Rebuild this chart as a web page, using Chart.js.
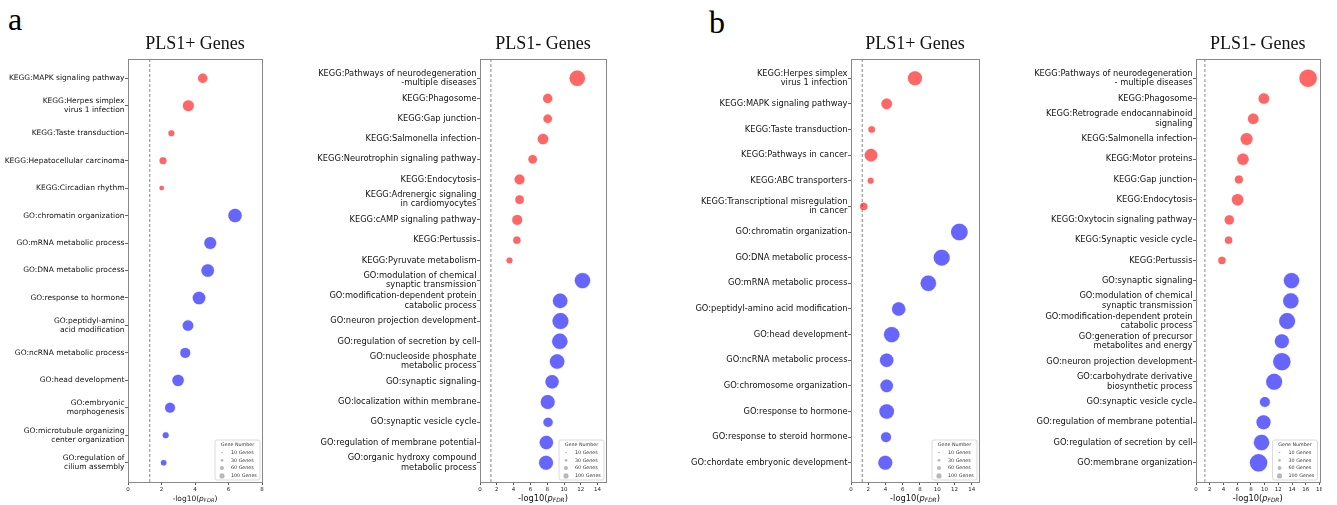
<!DOCTYPE html>
<html>
<head>
<meta charset="utf-8">
<script src="https://cdn.jsdelivr.net/npm/chart.js@4.4.1/dist/chart.umd.min.js"></script>
<style>
  html, body { margin: 0; padding: 0; background: #fff; }
  body { width: 1337px; height: 505px; position: relative; overflow: hidden; }
  .panel { position: absolute; top: 0; height: 505px; overflow: hidden; }
  .panel canvas { display: block; }
  .letter { position: absolute; font: 32px/32px 'Liberation Serif', serif; color: #000; }
</style>
</head>
<body>
<div class="letter" style="left:8px;top:3px">a</div>
<div class="letter" style="left:709px;top:6px">b</div>
<div class="panel" style="left:0px;width:272px"><canvas id="aPlus" width="272" height="505"></canvas></div>
<div class="panel" style="left:290px;width:326px"><canvas id="aMinus" width="326" height="505"></canvas></div>
<div class="panel" style="left:660px;width:329px"><canvas id="bPlus" width="329" height="505"></canvas></div>
<div class="panel" style="left:1000px;width:322px"><canvas id="bMinus" width="337" height="505"></canvas></div>

<script>
// Data
const threshold = 1.3 // -log10(0.05)
const legendGenes = [10, 30, 60, 100]

const aPlusTerms = [
  'KEGG:MAPK signaling pathway',
  'KEGG:Herpes simplex\nvirus 1 infection',
  'KEGG:Taste transduction',
  'KEGG:Hepatocellular carcinoma',
  'KEGG:Circadian rhythm',
  'GO:chromatin organization',
  'GO:mRNA metabolic process',
  'GO:DNA metabolic process',
  'GO:response to hormone',
  'GO:peptidyl-amino\nacid modification',
  'GO:ncRNA metabolic process',
  'GO:head development',
  'GO:embryonic\nmorphogenesis',
  'GO:microtubule organizing\ncenter organization',
  'GO:regulation of\ncilium assembly',
]
const aPlusLogP = [4.46, 3.6, 2.59, 2.09, 2.01, 6.39, 4.91, 4.76, 4.24, 3.58, 3.42, 2.99, 2.51, 2.25, 2.13]
const aPlusGenes = [34, 47, 14, 19, 8, 70, 56, 62, 62, 44, 39, 51, 39, 14, 12]
const aPlusTicks = [0, 2, 4, 6, 8]

const aMinusTerms = [
  'KEGG:Pathways of neurodegeneration\n-multiple diseases',
  'KEGG:Phagosome',
  'KEGG:Gap junction',
  'KEGG:Salmonella infection',
  'KEGG:Neurotrophin signaling pathway',
  'KEGG:Endocytosis',
  'KEGG:Adrenergic signaling\nin cardiomyocytes',
  'KEGG:cAMP signaling pathway',
  'KEGG:Pertussis',
  'KEGG:Pyruvate metabolism',
  'GO:modulation of chemical\nsynaptic transmission',
  'GO:modification-dependent protein\ncatabolic process',
  'GO:neuron projection development',
  'GO:regulation of secretion by cell',
  'GO:nucleoside phosphate\nmetabolic process',
  'GO:synaptic signaling',
  'GO:localization within membrane',
  'GO:synaptic vesicle cycle',
  'GO:regulation of membrane potential',
  'GO:organic hydroxy compound\nmetabolic process',
]
const aMinusLogP = [11.58, 8.06, 8.06, 7.5, 6.27, 4.71, 4.71, 4.43, 4.39, 3.51, 12.2, 9.54, 9.58, 9.5, 9.18, 8.58, 8.06, 8.1, 7.9, 7.86]
const aMinusGenes = [93, 34, 29, 44, 29, 39, 29, 39, 21, 14, 93, 83, 100, 93, 83, 70, 77, 34, 70, 77]
const aMinusTicks = [0, 2, 4, 6, 8, 10, 12, 14]

const bPlusTerms = [
  'KEGG:Herpes simplex\nvirus 1 infection',
  'KEGG:MAPK signaling pathway',
  'KEGG:Taste transduction',
  'KEGG:Pathways in cancer',
  'KEGG:ABC transporters',
  'KEGG:Transcriptional misregulation\nin cancer',
  'GO:chromatin organization',
  'GO:DNA metabolic process',
  'GO:mRNA metabolic process',
  'GO:peptidyl-amino acid modification',
  'GO:head development',
  'GO:ncRNA metabolic process',
  'GO:chromosome organization',
  'GO:response to hormone',
  'GO:response to steroid hormone',
  'GO:chordate embryonic development',
]
const bPlusLogP = [7.42, 4.14, 2.4, 2.32, 2.28, 1.47, 12.57, 10.52, 8.97, 5.53, 4.72, 4.14, 4.14, 4.14, 4.06, 3.98]
const bPlusGenes = [77, 44, 17, 62, 14, 21, 108, 100, 93, 70, 93, 70, 62, 83, 39, 77]
const bPlusTicks = [0, 2, 4, 6, 8, 10, 12, 14]

const bMinusTerms = [
  'KEGG:Pathways of neurodegeneration\n- multiple diseases',
  'KEGG:Phagosome',
  'KEGG:Retrograde endocannabinoid\nsignaling',
  'KEGG:Salmonella infection',
  'KEGG:Motor proteins',
  'KEGG:Gap junction',
  'KEGG:Endocytosis',
  'KEGG:Oxytocin signaling pathway',
  'KEGG:Synaptic vesicle cycle',
  'KEGG:Pertussis',
  'GO:synaptic signaling',
  'GO:modulation of chemical\nsynaptic transmission',
  'GO:modification-dependent protein\ncatabolic process',
  'GO:generation of precursor\nmetabolites and energy',
  'GO:neuron projection development',
  'GO:carbohydrate derivative\nbiosynthetic process',
  'GO:synaptic vesicle cycle',
  'GO:regulation of membrane potential',
  'GO:regulation of secretion by cell',
  'GO:membrane organization',
]
const bMinusLogP = [16.34, 9.89, 8.34, 7.37, 6.84, 6.25, 6.06, 4.85, 4.75, 3.78, 13.92, 13.82, 13.28, 12.51, 12.51, 11.39, 10.04, 9.84, 9.55, 9.12]
const bMinusGenes = [118, 44, 44, 56, 51, 25, 51, 34, 21, 21, 93, 93, 100, 77, 118, 100, 39, 77, 93, 118]
const bMinusTicks = [0, 2, 4, 6, 8, 10, 12, 14, 16, 18]

// Styles
const bubbleScale = 0.8
const legendScale = 0.26
const keggColor = 'rgba(255, 0, 0, 0.6)'
const goColor = 'rgba(0, 0, 255, 0.6)'
const sans = '"DejaVu Sans", sans-serif'

const radius = (genes) => bubbleScale * Math.sqrt(genes)

function drawAxisLabel(ctx, cx, y, size) {
  const parts = [
    { text: '-log10(', font: size + 'px ' + sans, dy: 0 },
    { text: 'p', font: 'italic ' + size + 'px ' + sans, dy: 0 },
    { text: 'FDR', font: 'italic ' + size * 0.7 + 'px ' + sans, dy: size * 0.22 },
    { text: ')', font: size + 'px ' + sans, dy: 0 },
  ]
  let total = 0
  parts.forEach((p) => {
    ctx.font = p.font
    p.w = ctx.measureText(p.text).width
    total += p.w
  })
  let x = cx - total / 2
  ctx.textAlign = 'left'
  ctx.textBaseline = 'alphabetic'
  ctx.fillStyle = '#111'
  parts.forEach((p) => {
    ctx.font = p.font
    ctx.fillText(p.text, x, y + p.dy)
    x += p.w
  })
}

function drawSizeLegend(ctx, right, bottom) {
  const w = 45
  const h = 40
  const x = right - w
  const y = bottom - h
  ctx.fillStyle = 'rgba(255, 255, 255, 0.85)'
  ctx.strokeStyle = '#d0d0d0'
  ctx.lineWidth = 0.8
  ctx.beginPath()
  ctx.roundRect(x, y, w, h, 2)
  ctx.fill()
  ctx.stroke()

  ctx.font = '4.8px ' + sans
  ctx.fillStyle = '#333'
  ctx.textAlign = 'center'
  ctx.textBaseline = 'middle'
  ctx.fillText('Gene Number', x + w / 2, y + 4.6)

  legendGenes.forEach((n, i) => {
    const cy = y + 12.5 + i * 7.8
    ctx.fillStyle = 'rgba(128, 128, 128, 0.55)'
    ctx.beginPath()
    ctx.arc(x + 7, cy, legendScale * Math.sqrt(n), 0, Math.PI * 2)
    ctx.fill()
    ctx.fillStyle = '#333'
    ctx.textAlign = 'left'
    ctx.fillText(n + ' Genes', x + 16, cy)
  })
}

const decor = {
  id: 'decor',
  beforeDatasetsDraw(chart) {
    const { ctx, chartArea: { top, bottom } } = chart
    const x = chart.scales.x.getPixelForValue(threshold)
    ctx.save()
    ctx.strokeStyle = '#7a7a7a'
    ctx.lineWidth = 0.9
    ctx.setLineDash([3, 2])
    ctx.beginPath()
    ctx.moveTo(x, top)
    ctx.lineTo(x, bottom)
    ctx.stroke()
    ctx.restore()
  },
  afterDraw(chart, args, opts) {
    const { ctx, chartArea: { left, top, right, bottom } } = chart
    ctx.save()
    ctx.strokeStyle = '#888'
    ctx.lineWidth = 1
    ctx.strokeRect(Math.round(left) + 0.5, Math.round(top) + 0.5, Math.round(right - left), Math.round(bottom - top))

    ctx.fillStyle = '#111'
    ctx.font = '18px "Liberation Serif", serif'
    ctx.textAlign = 'center'
    ctx.textBaseline = 'alphabetic'
    ctx.fillText(opts.title, (left + right) / 2, 48.5)

    drawAxisLabel(ctx, (left + right) / 2, 500.5, opts.fontSize)
    drawSizeLegend(ctx, right - 2, bottom - 2)
    ctx.restore()
  },
}

function createPanel({ id, title, terms, logP, genes, ticks, xMax, yWidth, padRight, fontSize, lineHeight }) {
  const points = terms.map((t, i) => ({ x: logP[i], y: i, r: radius(genes[i]), kegg: t.startsWith('KEGG:') }))
  const n = terms.length

  new Chart(document.getElementById(id), {
    type: 'bubble',
    data: {
      datasets: [
        {
          data: points.filter((p) => p.kegg),
          backgroundColor: keggColor,
          borderColor: 'rgba(255, 80, 80, 0.35)',
          borderWidth: 0.6,
        },
        {
          data: points.filter((p) => !p.kegg),
          backgroundColor: goColor,
          borderColor: 'rgba(80, 80, 255, 0.35)',
          borderWidth: 0.6,
        },
      ],
    },
    options: {
      responsive: false,
      animation: false,
      events: [],
      layout: { padding: { top: 59, right: padRight, bottom: 0, left: 0 } },
      plugins: {
        legend: { display: false },
        tooltip: { enabled: false },
        decor: { title, fontSize },
      },
      scales: {
        x: {
          type: 'linear',
          min: 0,
          max: xMax,
          afterBuildTicks: (scale) => {
            scale.ticks = ticks.map((v) => ({ value: v }))
          },
          afterFit: (scale) => {
            scale.height = 23
          },
          border: { display: false },
          grid: { drawOnChartArea: false, tickLength: 3, tickColor: '#555' },
          ticks: {
            font: { family: sans, size: 5.5 },
            color: '#222',
            padding: 1,
            maxRotation: 0,
            autoSkip: false,
          },
        },
        y: {
          type: 'linear',
          reverse: true,
          min: -0.05 * (n - 1),
          max: (n - 1) * 1.05,
          afterBuildTicks: (scale) => {
            scale.ticks = terms.map((t, i) => ({ value: i }))
          },
          afterFit: (scale) => {
            scale.width = yWidth
          },
          border: { display: false },
          grid: { drawOnChartArea: false, tickLength: 3, tickColor: '#666' },
          ticks: {
            font: { family: sans, size: fontSize, lineHeight },
            color: '#111',
            padding: 0.5,
            autoSkip: false,
            callback: (v) => (terms[v] ? terms[v].split('\n') : ''),
          },
        },
      },
    },
    plugins: [decor],
  })
}

createPanel({
  id: 'aPlus', title: 'PLS1+ Genes', terms: aPlusTerms, logP: aPlusLogP, genes: aPlusGenes,
  ticks: aPlusTicks, xMax: 8, yWidth: 128, padRight: 10, fontSize: 7.5, lineHeight: 1.25,
})
createPanel({
  id: 'aMinus', title: 'PLS1- Genes', terms: aMinusTerms, logP: aMinusLogP, genes: aMinusGenes,
  ticks: aMinusTicks, xMax: 15, yWidth: 190, padRight: 10, fontSize: 8.3, lineHeight: 1.12,
})
createPanel({
  id: 'bPlus', title: 'PLS1+ Genes', terms: bPlusTerms, logP: bPlusLogP, genes: bPlusGenes,
  ticks: bPlusTicks, xMax: 14.85, yWidth: 191, padRight: 10, fontSize: 8.3, lineHeight: 1.12,
})
createPanel({
  id: 'bMinus', title: 'PLS1- Genes', terms: bMinusTerms, logP: bMinusLogP, genes: bMinusGenes,
  ticks: bMinusTicks, xMax: 18, yWidth: 196, padRight: 17.5, fontSize: 8.3, lineHeight: 1.12,
})
</script>
</body>
</html>
